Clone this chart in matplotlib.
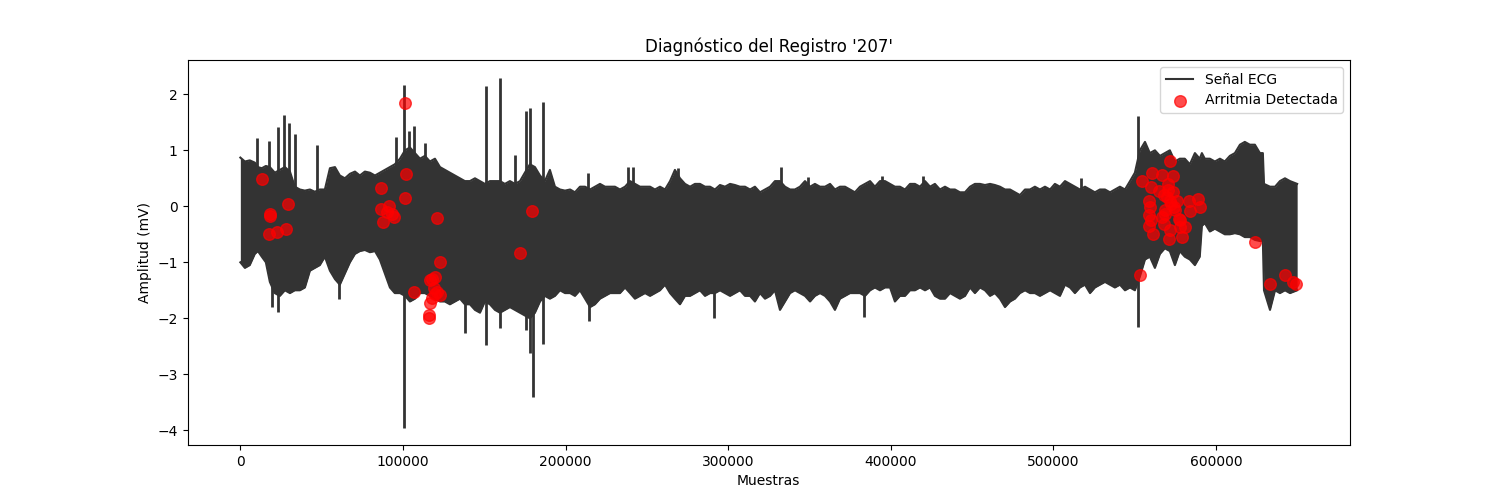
import numpy as np
import matplotlib
matplotlib.use("Agg")
import matplotlib.pyplot as plt

# ECG record '207' (650000 samples) -- drawn as the envelope of the trace
# sample index of each envelope knot
muestras = [0, 2800, 5800, 8900, 10800, 13200, 15700, 18150, 21200, 24300,
            27400, 30500, 33500, 36600, 39700, 42800, 45800, 48900, 52000, 55100,
            58200, 61200, 64300, 67400, 70500, 73500, 76600, 79700, 82800, 85800,
            88900, 92000, 95000, 98200, 101300, 104300, 107400, 110500, 113500, 116600,
            119700, 122800, 125800, 128900, 132000, 135100, 138100, 141200, 144300, 147400,
            150400, 153500, 156600, 159700, 162700, 165800, 168900, 172000, 175000, 178100,
            181200, 184300, 187300, 190400, 193500, 196600, 199700, 202800, 205800, 208900,
            212000, 215100, 218100, 221200, 224300, 227400, 230400, 233500, 236600, 239700,
            242700, 245800, 248900, 252000, 255000, 258100, 261200, 264300, 267300, 270400,
            273500, 276600, 279600, 282700, 285800, 288900, 291900, 295000, 298100, 301200,
            304200, 307300, 310400, 313500, 316500, 319600, 322700, 325800, 328800, 331900,
            335000, 338100, 341100, 344200, 347300, 350400, 353400, 356500, 359600, 362700,
            365700, 368800, 371900, 375000, 378000, 381100, 384200, 387300, 390300, 393400,
            396500, 399600, 402600, 405700, 408800, 411900, 414900, 418000, 421100, 424200,
            427200, 430300, 433400, 436500, 439500, 442600, 445700, 448800, 451800, 454900,
            458000, 461100, 464100, 467200, 470300, 473400, 476400, 479500, 482600, 485700,
            488700, 491800, 494900, 498000, 501000, 504100, 507200, 510300, 513300, 516400,
            519500, 522600, 525600, 528700, 531800, 534900, 537900, 541000, 544100, 547200,
            550200, 553300, 556400, 559400, 562500, 565600, 568600, 571700, 574800, 577800,
            580900, 584000, 587100, 590100, 591400, 593200, 596300, 599400, 602500, 605500,
            608600, 611700, 614800, 617800, 620900, 624000, 627100, 628900, 629600, 633300,
            636400, 639400, 642500, 645600, 649999]

amp_sup = [0.87, 0.80, 0.82, 0.78, 0.70, 0.68, 0.72, 0.70, 0.60, 0.65,
           0.70, 0.62, 0.35, 0.30, 0.28, 0.30, 0.26, 0.30, 0.30, 0.68,
           0.70, 0.55, 0.50, 0.58, 0.62, 0.55, 0.62, 0.60, 0.55, 0.60,
           0.65, 0.70, 0.75, 0.85, 1.00, 1.05, 0.95, 0.85, 0.90, 0.80,
           0.85, 0.70, 0.65, 0.60, 0.55, 0.50, 0.45, 0.45, 0.50, 0.45,
           0.40, 0.45, 0.45, 0.45, 0.40, 0.45, 0.40, 0.45, 0.60, 0.75,
           0.70, 0.55, 0.45, 0.65, 0.35, 0.30, 0.28, 0.30, 0.25, 0.35,
           0.35, 0.30, 0.35, 0.40, 0.35, 0.35, 0.35, 0.30, 0.35, 0.45,
           0.40, 0.35, 0.35, 0.35, 0.30, 0.35, 0.30, 0.45, 0.65, 0.50,
           0.40, 0.35, 0.40, 0.40, 0.35, 0.35, 0.30, 0.38, 0.35, 0.40,
           0.38, 0.35, 0.35, 0.30, 0.35, 0.25, 0.30, 0.35, 0.45, 0.45,
           0.35, 0.30, 0.30, 0.35, 0.45, 0.35, 0.40, 0.35, 0.35, 0.40,
           0.30, 0.35, 0.35, 0.30, 0.25, 0.35, 0.40, 0.45, 0.35, 0.45,
           0.45, 0.40, 0.35, 0.35, 0.30, 0.40, 0.40, 0.35, 0.45, 0.35,
           0.40, 0.30, 0.35, 0.30, 0.30, 0.25, 0.25, 0.35, 0.40, 0.40,
           0.38, 0.40, 0.38, 0.35, 0.30, 0.30, 0.25, 0.20, 0.30, 0.30,
           0.35, 0.30, 0.35, 0.30, 0.40, 0.35, 0.45, 0.40, 0.35, 0.30,
           0.35, 0.30, 0.25, 0.30, 0.30, 0.25, 0.30, 0.35, 0.30, 0.45,
           0.60, 1.00, 1.15, 0.95, 1.00, 0.90, 0.95, 1.00, 0.80, 0.85,
           0.85, 0.75, 0.95, 0.85, 0.95, 0.85, 0.85, 0.80, 0.85, 0.80,
           0.90, 0.95, 1.10, 1.15, 1.10, 1.10, 0.95, 0.95, 0.40, 0.35,
           0.35, 0.45, 0.50, 0.45, 0.40]

amp_inf = [-1.00, -1.10, -1.05, -0.85, -0.80, -0.90, -1.00, -1.35, -1.55, -1.60,
           -1.50, -1.55, -1.50, -1.50, -1.45, -1.15, -1.10, -1.05, -0.90, -1.15,
           -1.30, -1.40, -1.20, -1.00, -0.85, -0.80, -0.78, -0.82, -0.80, -0.95,
           -1.20, -1.45, -1.55, -1.55, -1.60, -1.70, -1.65, -1.55, -1.55, -1.60,
           -1.65, -1.70, -1.70, -1.75, -1.70, -1.65, -1.75, -1.75, -1.85, -1.90,
           -1.70, -1.75, -1.85, -1.90, -1.85, -1.80, -1.85, -1.90, -1.95, -2.00,
           -1.90, -1.70, -1.60, -1.65, -1.60, -1.50, -1.55, -1.55, -1.60, -1.50,
           -1.65, -1.80, -1.75, -1.65, -1.60, -1.55, -1.55, -1.55, -1.45, -1.55,
           -1.65, -1.60, -1.55, -1.60, -1.55, -1.50, -1.40, -1.55, -1.65, -1.75,
           -1.60, -1.60, -1.55, -1.50, -1.60, -1.55, -1.55, -1.50, -1.55, -1.60,
           -1.55, -1.50, -1.60, -1.60, -1.70, -1.55, -1.65, -1.60, -1.50, -1.85,
           -1.70, -1.55, -1.50, -1.55, -1.60, -1.70, -1.60, -1.55, -1.60, -1.70,
           -1.85, -1.65, -1.60, -1.55, -1.55, -1.55, -1.60, -1.50, -1.45, -1.50,
           -1.45, -1.45, -1.70, -1.60, -1.60, -1.50, -1.50, -1.45, -1.50, -1.45,
           -1.60, -1.65, -1.65, -1.55, -1.60, -1.65, -1.60, -1.45, -1.55, -1.45,
           -1.50, -1.60, -1.55, -1.65, -1.80, -1.70, -1.65, -1.55, -1.50, -1.55,
           -1.55, -1.60, -1.55, -1.50, -1.55, -1.60, -1.40, -1.45, -1.55, -1.45,
           -1.40, -1.55, -1.45, -1.40, -1.35, -1.40, -1.45, -1.40, -1.50, -1.45,
           -1.50, -1.25, -0.95, -0.90, -1.10, -0.85, -0.75, -0.80, -1.05, -0.80,
           -0.90, -0.95, -1.05, -0.90, -0.35, -0.30, -0.45, -0.40, -0.45, -0.50,
           -0.50, -0.48, -0.50, -0.55, -0.55, -0.60, -0.62, -0.62, -1.50, -1.85,
           -1.50, -1.55, -1.50, -1.55, -1.50]

# isolated beats that stick out of the envelope
picos_x = [10100, 17800, 19400, 23100, 23400, 26800, 29800, 33500, 47100, 60600,
           95700, 100600, 103700, 106800, 113500, 138200, 151100, 159700, 168900, 176000,
           178000, 180000, 186200, 214400, 238500, 241500, 291400, 383800, 552000,
           214000, 269200, 332700, 349000, 394600, 419800, 517000]
picos_max = [1.22, 1.17, 0.0, 1.42, 0.0, 1.63, 1.48, 1.29, 1.10, 0.0,
             1.23, 2.16, 1.35, 1.44, 1.13, 0.0, 2.15, 2.30, 0.91, 1.70,
             1.76, 0.0, 1.87, 0.0, 0.71, 0.71, 0.0, 0.0, 1.61,
             0.60, 0.69, 0.70, 0.53, 0.55, 0.54, 0.50]
picos_min = [0.0, 0.0, -1.79, 0.0, -1.88, 0.0, 0.0, 0.0, 0.0, -1.66,
             0.0, -3.95, 0.0, 0.0, 0.0, -2.26, -2.48, -2.18, 0.0, -2.20,
             -2.62, -3.40, -2.45, -2.04, 0.0, 0.0, -2.00, -1.98, -2.15,
             0.0, 0.0, 0.0, 0.0, 0.0, 0.0, 0.0]

# detected arrhythmias
arr_x = [13400, 18150, 18150, 29400, 17750, 22250, 27800, 86450, 86450, 91200,
         90000, 87900, 94450, 93000, 101400, 102000, 101400, 121100, 122750, 106750,
         117650, 119700, 119000, 120700, 122750, 118050, 116600, 116200, 116200, 119700,
         116600, 172200, 179400,
         553100, 554600, 560700, 566600, 571600, 573400, 560100, 564800, 558600, 559700,
         558600, 560100, 559000, 561100, 570700, 573800, 571700, 576100, 568900, 574000,
         567900, 571700, 570900, 577100, 578200, 581200, 579200, 583300, 588800, 590500,
         584000, 570000, 566700, 568500, 577700, 575000, 572400, 570500, 568000,
         624300, 633100, 642800, 647500, 649500]
arr_y = [0.48, -0.13, -0.18, 0.04, -0.49, -0.45, -0.40, 0.32, -0.05, 0.00,
         -0.10, -0.28, -0.19, -0.13, 1.85, 0.58, 0.14, -0.20, -1.00, -1.53,
         -1.29, -1.27, -1.46, -1.53, -1.59, -1.63, -1.73, -1.94, -2.00, -1.56,
         -1.32, -0.84, -0.08,
         -1.23, 0.46, 0.59, 0.56, 0.81, 0.55, 0.34, 0.28, 0.10, -0.02,
         -0.16, -0.25, -0.36, -0.49, 0.40, 0.25, 0.10, 0.10, -0.13, -0.02,
         -0.31, -0.43, -0.58, -0.22, -0.37, -0.37, -0.55, 0.10, 0.13, -0.02,
         -0.09, 0.16, -0.19, -0.07, -0.25, -0.07, 0.05, 0.30, 0.20,
         -0.64, -1.39, -1.23, -1.36, -1.38]

color_ecg = "#333333"

fig, ax = plt.subplots(figsize=(15, 5), dpi=100)

ax.fill_between(muestras, amp_inf, amp_sup, color=color_ecg, lw=0)
ax.plot(muestras, amp_sup, color=color_ecg, lw=1.5, label="Señal ECG")
ax.plot(muestras, amp_inf, color=color_ecg, lw=1.5)
ax.vlines(picos_x, picos_min, picos_max, color=color_ecg, lw=2)

ax.scatter(arr_x, arr_y, color="red", s=70, alpha=0.7, label="Arritmia Detectada", zorder=3)

ax.set_title("Diagnóstico del Registro '207'")
ax.set_xlabel("Muestras")
ax.set_ylabel("Amplitud (mV)")
ax.legend(loc="upper right")

plt.savefig("out.png")
